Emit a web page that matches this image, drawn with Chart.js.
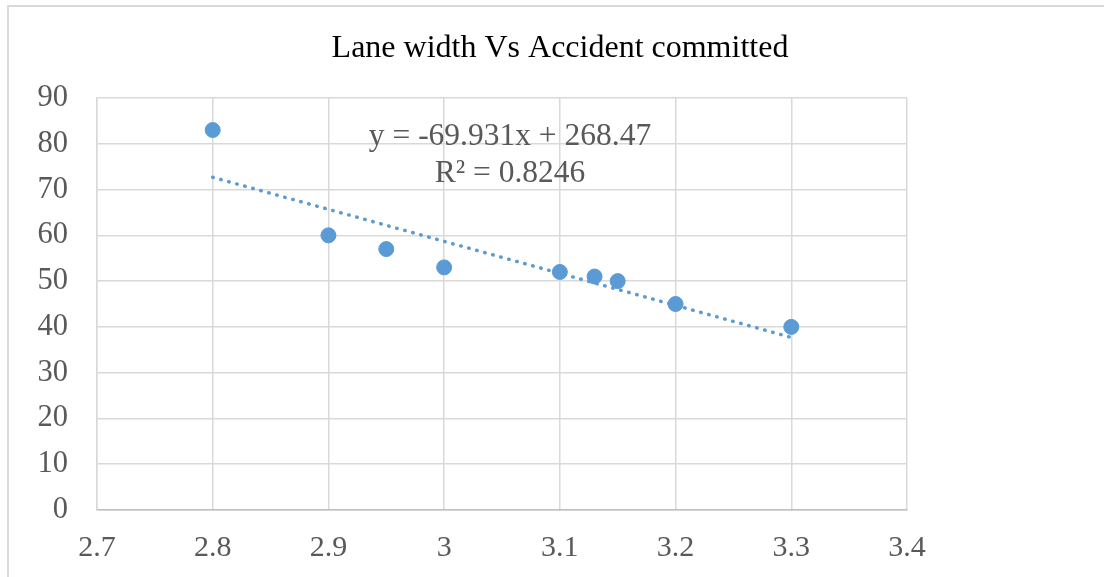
<!DOCTYPE html>
<html>
<head>
<meta charset="utf-8">
<script src="https://cdn.jsdelivr.net/npm/chart.js@4/dist/chart.umd.min.js"></script>
<style>
  html, body { margin: 0; padding: 0; background: #fff; }
  #wrap { position: relative; width: 1104px; height: 577px; }
</style>
</head>
<body>
<div id="wrap"><canvas id="myChart" width="1104" height="577"></canvas></div>
<script>
// 車線幅と事故件数のデータ
const laneWidth = [2.8, 2.9, 2.95, 3.0, 3.1, 3.13, 3.15, 3.2, 3.3];
const accidents = [83, 60, 57, 53, 52, 51, 50, 45, 40];

// 近似直線 (y = -69.931x + 268.47) の両端
const trendX = [2.8, 3.3];
const trendY = [72.68, 37.70];
const trendLabel = ['y = -69.931x + 268.47', 'R\u00B2 = 0.8246'];
const chartTitle = 'Lane width Vs Accident committed';

const xTicks = [2.7, 2.8, 2.9, 3.0, 3.1, 3.2, 3.3, 3.4];
const yTicks = [0, 10, 20, 30, 40, 50, 60, 70, 80, 90];

const serif = "'Liberation Serif', 'Times New Roman', serif";

// 外枠・タイトル・近似式を描く
const extras = {
    id: 'extras',
    beforeDraw(chart) {
        const c = chart.ctx;
        c.save();
        c.strokeStyle = '#d9d9d9';
        c.lineWidth = 2;
        c.beginPath();
        c.moveTo(8, 577);
        c.lineTo(8, 6);
        c.lineTo(1104, 6);
        c.stroke();
        c.fillStyle = '#000';
        c.font = '32px ' + serif;
        c.textAlign = 'center';
        c.textBaseline = 'alphabetic';
        c.fillText(chartTitle, 560, 57);
        c.restore();
    },
    afterDatasetsDraw(chart) {
        const c = chart.ctx;
        c.save();
        c.font = '31.5px ' + serif;
        c.fillStyle = '#595959';
        c.textAlign = 'center';
        c.textBaseline = 'alphabetic';
        c.fillText(trendLabel[0], 510, 145);
        c.fillText(trendLabel[1], 510, 182);
        c.restore();
    }
};

const ctx = document.getElementById('myChart').getContext('2d');
const myScatter = new Chart(ctx, {
    type: 'scatter',
    data: {
        datasets: [{
            label: 'Accident',
            data: laneWidth.map((x, i) => ({ x: x, y: accidents[i] })),
            backgroundColor: '#5B9BD5',
            borderColor: '#5B9BD5',
            pointRadius: 7.5,
            order: 1
        }, {
            label: 'Trend',
            type: 'line',
            data: trendX.map((x, i) => ({ x: x, y: trendY[i] })),
            borderColor: '#5B9BD5',
            borderWidth: 3.5,
            borderDash: [0.5, 7.8],
            borderCapStyle: 'round',
            pointRadius: 0,
            fill: false,
            order: 2
        }]
    },
    options: {
        responsive: false,
        animation: false,
        layout: { padding: { left: 16, right: 197, top: 98, bottom: 0 } },
        plugins: {
            legend: { display: false },
            tooltip: { enabled: false },
            title: { display: false }
        },
        scales: {
            x: {
                type: 'linear',
                min: 2.7,
                max: 3.4,
                afterBuildTicks: axis => { axis.ticks = xTicks.map(v => ({ value: v })); },
                afterFit: axis => { axis.height = 67; },
                ticks: {
                    color: '#595959',
                    padding: 20,
                    font: { family: serif, size: 30 },
                    callback: v => String(Math.round(v * 10) / 10)
                },
                grid: { color: '#d9d9d9', lineWidth: 1.5, drawTicks: false },
                border: { color: '#bfbfbf', width: 1.5 }
            },
            y: {
                min: 0,
                max: 90,
                afterBuildTicks: axis => { axis.ticks = yTicks.map(v => ({ value: v })); },
                afterFit: axis => { axis.width = 81; },
                ticks: {
                    color: '#595959',
                    padding: 29,
                    font: { family: serif, size: 30.5 }
                },
                grid: { color: '#d9d9d9', lineWidth: 1.5, drawTicks: false },
                border: { color: '#d9d9d9', width: 1.5 }
            }
        }
    },
    plugins: [extras]
});
</script>
</body>
</html>
